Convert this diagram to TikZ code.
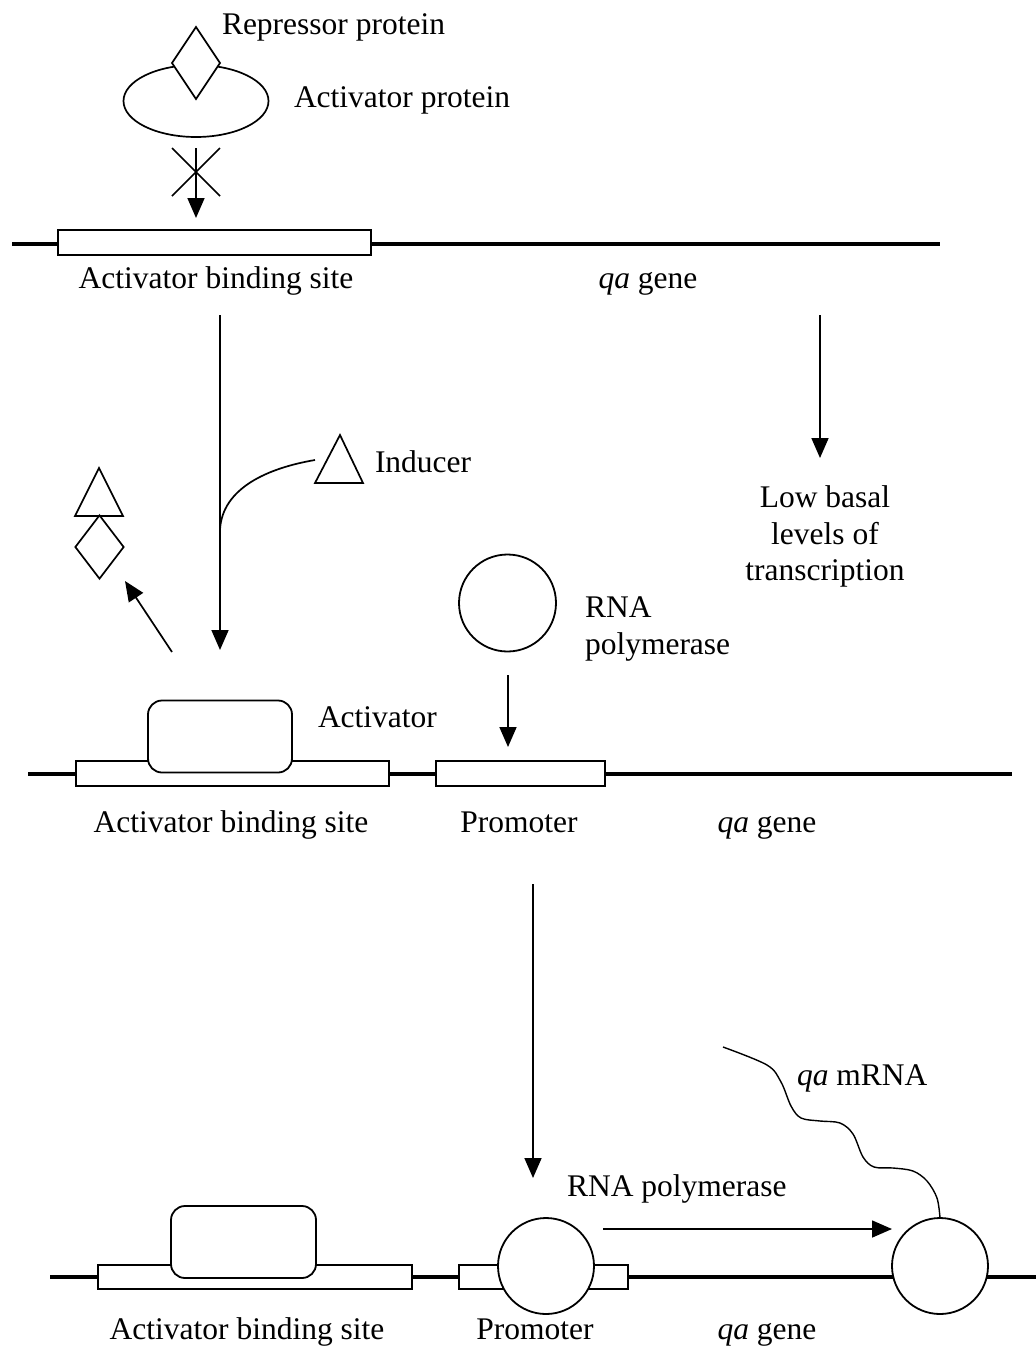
\documentclass[tikz,border=0pt]{standalone}
\usepackage{fontspec}
\setmainfont{Liberation Serif}
\usetikzlibrary{arrows.meta,shapes.geometric}
\begin{document}
\begin{tikzpicture}[x=1pt,y=-1pt,
  lbl/.style={font=\fontsize{31.5}{36.5}\selectfont, inner sep=0pt, outer sep=0pt},
  arr/.style={line width=1.7pt, -{Triangle[length=20pt,width=17pt]}},
  thin/.style={line width=1.7pt},
  dna/.style={line width=3.2pt},
  sitebox/.style={draw, rectangle, line width=1.8pt, fill=white, inner sep=0pt, outer sep=0pt},
  actbox/.style={draw, rectangle, rounded corners=14pt, line width=1.8pt, fill=white, inner sep=0pt, outer sep=0pt, minimum width=144pt, minimum height=72pt},
  polcircle/.style={draw, circle, line width=1.8pt, fill=white, inner sep=0pt, outer sep=0pt, minimum size=96pt},
  repr/.style={draw, diamond, line width=1.7pt, fill=white, inner sep=0pt, outer sep=0pt, minimum width=48pt, minimum height=72pt},
]
\useasboundingbox (0,0) rectangle (1036,1352);

% ---------------- top panel ----------------
\coordinate (dnaAL) at (12,244);
\coordinate (dnaAR) at (940,244);
\draw[dna] (dnaAL) -- (dnaAR);
\node[sitebox, minimum width=313pt, minimum height=25pt] (siteA) at (214.5,242.5) {};

\node[draw, ellipse, line width=1.7pt, inner sep=0pt, minimum width=145pt, minimum height=72pt] (actprot) at (196,101) {};
\node[repr] (repprot) at (196,63) {};

\node[lbl, anchor=base west] (repLbl) at (222,34) {Repressor protein};
\node[lbl, anchor=base west] (actLbl) at (294,107) {Activator protein};

\coordinate (xTL) at (172,148);
\coordinate (xTR) at (220,148);
\coordinate (xBL) at (172,196);
\coordinate (xBR) at (220,196);
\draw[thin] (xTL) -- (xBR);
\draw[thin] (xTR) -- (xBL);
\coordinate (blockS) at (196,148);
\coordinate (blockE) at (196,218);
\draw[arr] (blockS) -- (blockE);

\node[lbl, anchor=base] (siteALbl) at (216,288) {Activator binding site};
\node[lbl, anchor=base] (geneALbl) at (648,288) {\textit{qa} gene};

% ---------------- transitions ----------------
\coordinate (downLS) at (220,315);
\coordinate (downLE) at (220,650);
\draw[arr] (downLS) -- (downLE);

\coordinate (downRS) at (820,315);
\coordinate (downRE) at (820,458);
\draw[arr] (downRS) -- (downRE);
\node[lbl, anchor=north, align=center] (basalLbl) at (825,486) {Low basal\\levels of\\transcription};

% inducer
\coordinate (indA) at (340,435);
\coordinate (indL) at (315,483);
\coordinate (indR) at (363,483);
\draw[thin, line join=miter] (indA) -- (indR) -- (indL) -- cycle;
\node[lbl, anchor=base west] (indLbl) at (375,472) {Inducer};
\coordinate (indS) at (315,460);
\coordinate (indE) at (220,530);
\draw[thin] (indS) .. controls (268,468) and (222,488) .. (indE);

% released repressor + inducer
\coordinate (rtA) at (99,468);
\coordinate (rtL) at (75,516);
\coordinate (rtR) at (123,516);
\draw[thin] (rtA) -- (rtR) -- (rtL) -- cycle;
\node[draw, diamond, line width=1.7pt, inner sep=0pt, minimum width=49pt, minimum height=64pt] (relRep) at (99.5,547) {};
\coordinate (relS) at (172,652);
\coordinate (relE) at (125,581);
\draw[arr] (relS) -- (relE);

% RNA polymerase (free)
\node[polcircle, minimum size=97pt] (polA) at (507.5,603) {};
\node[lbl, anchor=north west, align=left] (polALbl) at (585,597) {RNA\\polymerase};
\coordinate (polAS) at (508,675);
\coordinate (polAE) at (508,747);
\draw[arr] (polAS) -- (polAE);

% ---------------- middle panel ----------------
\coordinate (dnaBL) at (28,774);
\coordinate (dnaBR) at (1012,774);
\draw[dna] (dnaBL) -- (dnaBR);
\node[sitebox, minimum width=313pt, minimum height=25pt] (siteB) at (232.5,773.5) {};
\node[actbox] (actB) at (220,736.5) {};
\node[sitebox, minimum width=169pt, minimum height=25pt] (promB) at (520.5,773.5) {};
\node[lbl, anchor=base west] (actBLbl) at (318,727) {Activator};

\node[lbl, anchor=base] (siteBLbl) at (231,832) {Activator binding site};
\node[lbl, anchor=base] (promBLbl) at (519,832) {Promoter};
\node[lbl, anchor=base] (geneBLbl) at (767,832) {\textit{qa} gene};

\coordinate (bigS) at (533,884);
\coordinate (bigE) at (533,1178);
\draw[arr] (bigS) -- (bigE);

% ---------------- bottom panel ----------------
\coordinate (dnaCL) at (50,1277);
\coordinate (dnaCR) at (1036,1277);
\draw[dna] (dnaCL) -- (dnaCR);
\node[sitebox, minimum width=314pt, minimum height=24pt] (siteC) at (255,1277) {};
\node[actbox, minimum width=145pt] (actC) at (243.5,1242) {};
\node[sitebox, minimum width=169pt, minimum height=24pt] (promC) at (543.5,1277) {};
\node[polcircle] (polC1) at (546,1266) {};
\node[polcircle] (polC2) at (940,1266) {};

\coordinate (moveS) at (603,1229);
\draw[arr] (moveS) -- (polC2.west |- moveS);
\node[lbl, anchor=base west] (polCLbl) at (567,1196) {RNA polymerase};

\coordinate (mrnaS) at (723,1047);
\draw[line width=1.4pt] plot[smooth, tension=0.55] coordinates
  {(mrnaS) (767,1065) (781,1082) (791,1106) (801,1118) (820,1121) (840,1123) (853,1134) (863,1157) (874,1167) (893,1168) (913,1171) (927,1181) (937,1198) (polC2.north)};
\node[lbl, anchor=base west] (mrnaLbl) at (797,1085) {\textit{qa} mRNA};

\node[lbl, anchor=base] (siteCLbl) at (247,1339) {Activator binding site};
\node[lbl, anchor=base] (promCLbl) at (535,1339) {Promoter};
\node[lbl, anchor=base] (geneCLbl) at (767,1339) {\textit{qa} gene};

\end{tikzpicture}
\end{document}
